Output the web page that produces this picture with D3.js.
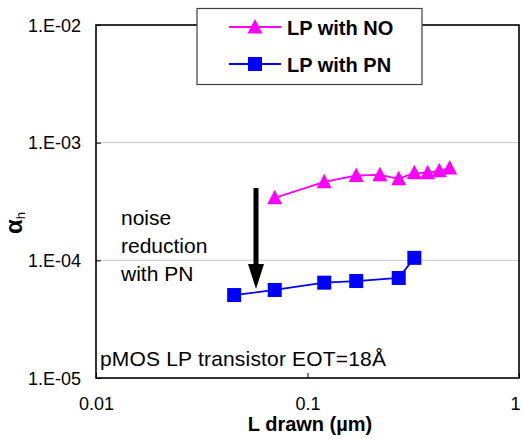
<!DOCTYPE html>
<html>
<head>
<meta charset="utf-8">
<script src="https://cdn.jsdelivr.net/npm/d3@7"></script>
<style>
html,body{margin:0;padding:0;background:#fff;}
svg{display:block;font-family:"Liberation Sans",Arial,sans-serif;}
</style>
</head>
<body>
<svg id="chart" width="522" height="439"></svg>
<script>
// ---- data ----
const seriesNames = ["LP with NO", "LP with PN"];
const noL     = [0.07, 0.12, 0.17, 0.22, 0.27, 0.32, 0.37, 0.42, 0.47];
const noAlpha = [3.4e-4, 4.65e-4, 5.26e-4, 5.33e-4, 4.93e-4, 5.54e-4, 5.54e-4, 5.76e-4, 6.1e-4];
const pnL     = [0.045, 0.07, 0.12, 0.17, 0.27, 0.32];
const pnAlpha = [5.07e-5, 5.6e-5, 6.46e-5, 6.67e-5, 7.08e-5, 1.05e-4];
const xTicks = [0.01, 0.1, 1];
const xTickLabels = ["0.01", "0.1", "1"];
const yTicks = [1e-5, 1e-4, 1e-3, 1e-2];
const yTickLabels = ["1.E-05", "1.E-04", "1.E-03", "1.E-02"];
const noteLines = ["noise", "reduction", "with PN"];
const bottomNote = "pMOS LP transistor EOT=18Å";
const xTitle = "L drawn (µm)";
const colors = ["#ff00ff", "#0000ff"];

// ---- layout ----
const L = 96, R = 519, T = 25, B = 378;
const svg = d3.select("#chart");
const x = d3.scaleLog().domain([0.01, 1]).range([L, R]);
const y = d3.scaleLog().domain([1e-5, 1e-2]).range([B, T]);

// gridlines
svg.append("g").selectAll("line").data(yTicks.filter(d => d > 1e-5 && d < 1e-2)).join("line")
  .attr("x1", L).attr("x2", R).attr("y1", d => y(d)).attr("y2", d => y(d))
  .attr("stroke", "#c8c8c8").attr("stroke-width", 1);

// axes via d3 (ticks inside)
const yAxis = d3.axisLeft(y).tickValues(yTicks).tickSize(-5).tickPadding(20)
  .tickFormat((d, i) => yTickLabels[i]);
const gy = svg.append("g").attr("transform", `translate(${L},0)`).call(yAxis);
gy.select(".domain").remove();
gy.selectAll("line").attr("stroke", "#000");
gy.selectAll("text").attr("font-size", 18).attr("fill", "#000")
  .attr("font-family", "'Liberation Sans',Arial,sans-serif").attr("x", -15).attr("dy", "0.35em");

const xAxis = d3.axisBottom(x).tickValues(xTicks).tickSize(-5)
  .tickFormat((d, i) => xTickLabels[i]);
const gx = svg.append("g").attr("transform", `translate(0,${B})`).call(xAxis);
gx.select(".domain").remove();
gx.selectAll("line").attr("stroke", "#000");
gx.selectAll("text").attr("font-size", 18).attr("fill", "#000")
  .attr("font-family", "'Liberation Sans',Arial,sans-serif").attr("y", 32).attr("dy", 0)
  .attr("x", (d, i) => i === xTicks.length - 1 ? -4 : 0);

// frame
svg.append("rect").attr("x", L).attr("y", T).attr("width", R - L).attr("height", B - T)
  .attr("fill", "none").attr("stroke", "#000").attr("stroke-width", 1.6);

// series
const lineGen = d3.line().x(d => x(d[0])).y(d => y(d[1]));
const noData = noL.map((d, i) => [d, noAlpha[i]]);
const pnData = pnL.map((d, i) => [d, pnAlpha[i]]);
svg.append("path").datum(noData).attr("d", lineGen).attr("fill", "none")
  .attr("stroke", colors[0]).attr("stroke-width", 1.8);
svg.append("path").datum(pnData).attr("d", lineGen).attr("fill", "none")
  .attr("stroke", colors[1]).attr("stroke-width", 1.8);

function triPath(cx, cy) {
  return `M${cx},${cy - 8}L${cx + 7.5},${cy + 6.5}L${cx - 7.5},${cy + 6.5}Z`;
}
svg.append("g").selectAll("path").data(noData).join("path")
  .attr("d", d => triPath(x(d[0]), y(d[1]))).attr("fill", colors[0]);
svg.append("g").selectAll("rect").data(pnData).join("rect")
  .attr("x", d => x(d[0]) - 7).attr("y", d => y(d[1]) - 7)
  .attr("width", 14).attr("height", 14).attr("fill", colors[1]);

// arrow
svg.append("line").attr("x1", 256).attr("x2", 256).attr("y1", 188).attr("y2", 270)
  .attr("stroke", "#000").attr("stroke-width", 5);
svg.append("path").attr("d", "M248,264L264,264L256,289Z").attr("fill", "#000");

// notes
svg.append("g").selectAll("text").data(noteLines).join("text")
  .attr("x", 121).attr("y", (d, i) => 225 + i * 28)
  .attr("font-size", 21).attr("fill", "#000").text(d => d);
svg.append("text").attr("x", 100).attr("y", 366).attr("font-size", 21)
  .attr("textLength", 286).attr("fill", "#000").text(bottomNote);

// x title
svg.append("text").attr("x", 310).attr("y", 431).attr("text-anchor", "middle")
  .attr("font-size", 20).attr("font-weight", "bold").attr("fill", "#000").text(xTitle);

// y title: alpha with subscript h
const yt = svg.append("text").attr("transform", "translate(22,234) rotate(-90)")
  .attr("fill", "#000");
yt.append("tspan").attr("font-size", 24).attr("font-weight", "bold").text("α");
yt.append("tspan").attr("font-size", 13).attr("dy", 3).text("h");

// legend
const lg = svg.append("g");
lg.append("rect").attr("x", 197).attr("y", 8.5).attr("width", 225).attr("height", 76)
  .attr("fill", "#fff").attr("stroke", "#404040").attr("stroke-width", 1.2);
const legRows = [27, 64];
seriesNames.forEach((name, i) => {
  lg.append("line").attr("x1", 229).attr("x2", 281).attr("y1", legRows[i]).attr("y2", legRows[i])
    .attr("stroke", colors[i]).attr("stroke-width", 1.8);
  if (i === 0) lg.append("path").attr("d", triPath(255, legRows[i])).attr("fill", colors[i]);
  else lg.append("rect").attr("x", 248).attr("y", legRows[i] - 7).attr("width", 14).attr("height", 14).attr("fill", colors[i]);
  lg.append("text").attr("x", 287).attr("y", legRows[i] + 7.5).attr("font-size", 20)
    .attr("font-weight", "bold").attr("fill", "#000").text(name);
});
</script>
</body>
</html>
